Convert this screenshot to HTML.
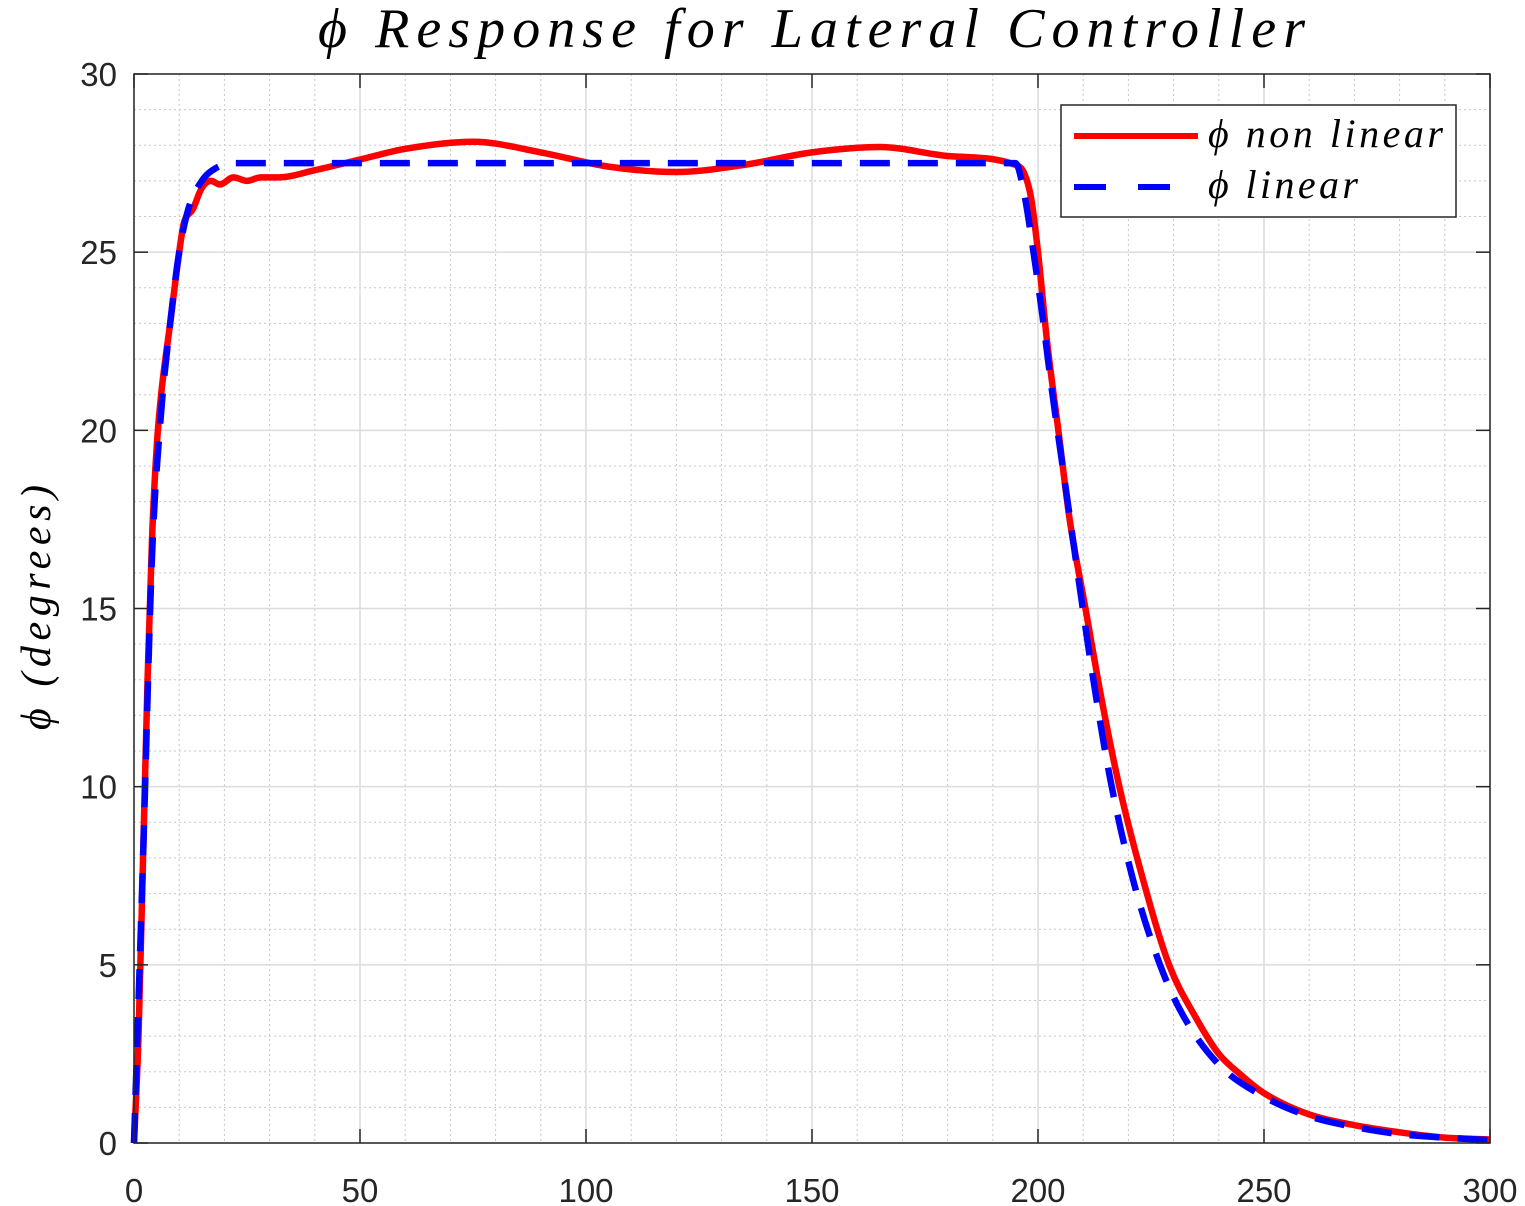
<!DOCTYPE html>
<html><head><meta charset="utf-8"><style>
html,body{margin:0;padding:0;background:#fff;}
svg{display:block;}
.tick{font-family:"Liberation Sans",sans-serif;font-size:33px;fill:#262626;}
.ltx{font-family:"Liberation Serif",serif;font-style:italic;fill:#000;}
</style></head><body>
<svg id="chart" width="1525" height="1206">
<g id="grid"></g>
<g id="series"></g>
<rect x="134" y="74" width="1356" height="1069" fill="none" stroke="#262626" stroke-width="1.5"/>
<g id="ticks"></g>
<text x="318" y="47" textLength="987" lengthAdjust="spacing" class="ltx" font-size="56">ϕ Response for Lateral Controller</text>
<text transform="translate(50,730) rotate(-90)" textLength="245" lengthAdjust="spacing" class="ltx" font-size="42">ϕ (degrees)</text>
<g>
<rect x="1061" y="105" width="395" height="112" fill="#fff" stroke="#262626" stroke-width="1.5"/>
<line x1="1074" y1="136" x2="1198" y2="136" stroke="#f00" stroke-width="6"/>
<text x="1208" y="147" textLength="235" lengthAdjust="spacing" class="ltx" font-size="40">ϕ non linear</text>
<line x1="1074" y1="187" x2="1170" y2="187" stroke="#00f" stroke-width="6" stroke-dasharray="32 32"/>
<text x="1208" y="198" textLength="150" lengthAdjust="spacing" class="ltx" font-size="40">ϕ linear</text>
</g>
</svg>
<script>
const xTicks=[0,50,100,150,200,250,300];
const yTicks=[0,5,10,15,20,25,30];
const tNonlinear=[0,1,2,3,4,5,6,8,10,11,13,15,17,19,22,25,28,32,40,50,60,75,90,105,120,135,150,165,180,195,197,198.5,200,202,204.5,207,210.5,214,218,223,229,235,240,245,250,260,270,280,290,300];
const phiNonlinear=[0,3,8,13,17,19.5,21,23,25,25.8,26.2,26.8,27.0,26.9,27.1,27.0,27.1,27.1,27.3,27.6,27.9,28.1,27.8,27.4,27.25,27.45,27.8,27.95,27.7,27.45,27.2,26.5,25,22.5,20,17.5,15,12.5,10,7.5,5,3.5,2.5,1.9,1.4,0.8,0.5,0.3,0.15,0.1];
const tLinear=[0,2,4,6,8,10,12,15,18,22,195,197,199,201,203,206,209,212,216,221,227,232,240,250,260,270,280,290,300];
const phiLinear=[0,8,16.5,20.5,23,25,26.2,27.0,27.35,27.5,27.5,26.6,25,23.2,21.2,18.5,15.8,13.2,10.2,7.4,5,3.6,2.2,1.3,0.75,0.45,0.25,0.15,0.08];
const X0=134,X1=1490,Y0=1143,Y1=74;
const sx=v=>X0+(v-0)/300*(X1-X0);
const sy=v=>Y0-(v-0)/30*(Y0-Y1);
const NS="http://www.w3.org/2000/svg";
const grid=document.getElementById('grid'),ticks=document.getElementById('ticks'),series=document.getElementById('series');
function ln(p,x1,y1,x2,y2,st,w,da){const l=document.createElementNS(NS,'line');l.setAttribute('x1',x1);l.setAttribute('y1',y1);l.setAttribute('x2',x2);l.setAttribute('y2',y2);l.setAttribute('stroke',st);l.setAttribute('stroke-width',w);if(da)l.setAttribute('stroke-dasharray',da);p.appendChild(l);return l;}
for(let v=10;v<300;v+=10){if(v%50){const g=ln(grid,sx(v),Y1,sx(v),Y0,'#c8c8c8',1,'2 3');

}}
for(let v=1;v<30;v++){if(v%5){const g=ln(grid,X0,sy(v),X1,sy(v),'#c8c8c8',1,'2 3');

}}
xTicks.forEach(v=>{const g=ln(grid,sx(v),Y1,sx(v),Y0,'#dcdcdc',1.5);


ln(ticks,sx(v),Y0,sx(v),Y0-14,'#262626',1.5);ln(ticks,sx(v),Y1,sx(v),Y1+14,'#262626',1.5);
const t=document.createElementNS(NS,'text');t.setAttribute('x',sx(v));t.setAttribute('y',1202);t.setAttribute('text-anchor','middle');t.setAttribute('class','tick');t.textContent=v;


ticks.appendChild(t);});
yTicks.forEach(v=>{const g=ln(grid,X0,sy(v),X1,sy(v),'#dcdcdc',1.5);


ln(ticks,X0,sy(v),X0+14,sy(v),'#262626',1.5);ln(ticks,X1,sy(v),X1-14,sy(v),'#262626',1.5);
const t=document.createElementNS(NS,'text');t.setAttribute('x',117);t.setAttribute('y',sy(v)+12);t.setAttribute('text-anchor','end');t.setAttribute('class','tick');t.textContent=v;


ticks.appendChild(t);});
function path(ts,vs,color,da,name){
const n=ts.length,X=ts.map(sx),Y=vs.map(sy);
const d0=[];for(let i=0;i<n-1;i++)d0.push((Y[i+1]-Y[i])/(X[i+1]-X[i]));
const m=new Array(n);m[0]=d0[0];m[n-1]=d0[n-2];
for(let i=1;i<n-1;i++){m[i]=(d0[i-1]*d0[i]<=0)?0:(d0[i-1]+d0[i])/2;}
for(let i=0;i<n-1;i++){if(d0[i]===0){m[i]=0;m[i+1]=0;continue;}
const a=m[i]/d0[i],b=m[i+1]/d0[i],s=a*a+b*b;if(s>9){const k=3/Math.sqrt(s);m[i]=k*a*d0[i];m[i+1]=k*b*d0[i];}}
let d='M'+X[0]+','+Y[0];
for(let i=0;i<n-1;i++){const h=(X[i+1]-X[i])/3;
d+=' C'+(X[i]+h)+','+(Y[i]+m[i]*h)+' '+(X[i+1]-h)+','+(Y[i+1]-m[i+1]*h)+' '+X[i+1]+','+Y[i+1];}
const p=document.createElementNS(NS,'path');
p.setAttribute('d',d);
p.setAttribute('fill','none');p.setAttribute('stroke',color);p.setAttribute('stroke-width',6.5);p.setAttribute('stroke-linejoin','round');
if(da)p.setAttribute('stroke-dasharray',da);


series.appendChild(p);}
path(tNonlinear,phiNonlinear,'#f00',null,'line-phi-nonlinear');
path(tLinear,phiLinear,'#00f','30 18','line-phi-linear');
</script>
</body></html>
